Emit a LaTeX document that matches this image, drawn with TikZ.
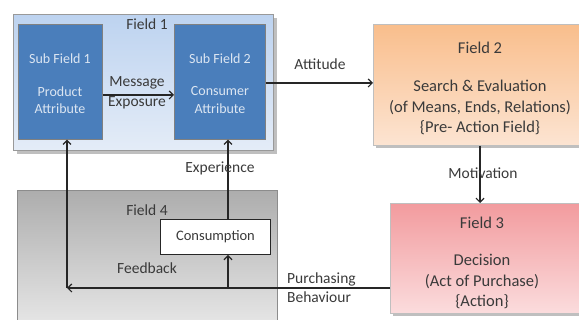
\documentclass[tikz,border=0pt]{standalone}
\usepackage{fontspec}
\setmainfont{Carlito}
\usetikzlibrary{arrows.meta}
\definecolor{subblue}{HTML}{4A7EBB}
\definecolor{subtext}{HTML}{DCE6F2}
\definecolor{txt}{HTML}{3A3A3A}
\definecolor{f1top}{HTML}{BDD3F0}
\definecolor{f1bot}{HTML}{E4ECF7}
\definecolor{f2top}{HTML}{F9BE8C}
\definecolor{f2bot}{HTML}{FCE4D2}
\definecolor{f3top}{HTML}{F29B9E}
\definecolor{f3bot}{HTML}{FBDCDD}
\definecolor{f4top}{HTML}{ADADAD}
\definecolor{f4bot}{HTML}{E6E6E6}
\tikzset{
  x=1pt, y=-1pt,
  shadowbox/.style={fill=black!25, draw=none},
  fieldbox/.style={draw=black!40, line width=0.6pt},
  subbox/.style={fill=subblue, draw=black!50, line width=0.6pt},
  lbl/.style={font=\fontsize{15.5}{19}\selectfont, text=txt, align=center, inner sep=1pt},
  biglbl/.style={font=\fontsize{16.5}{20.5}\selectfont, text=txt, align=center, inner sep=1pt},
  sublbl/.style={font=\fontsize{14}{17.5}\selectfont, text=subtext, align=center},
  conn/.style={line width=1.2pt, draw=black!85, -{Straight Barb[length=4pt,width=8pt]}},
}
\begin{document}
\begin{tikzpicture}
\useasboundingbox (0,0) rectangle (579,320);
% shadows
\fill[shadowbox] (17,18) rectangle (277,154);
\fill[shadowbox] (376,27) rectangle (583,148);
\fill[shadowbox] (393,206) rectangle (583,316);
% Field 1
\node[fieldbox, minimum width=260pt, minimum height=136pt, anchor=north west, top color=f1top, bottom color=f1bot, inner sep=0pt] (f1) at (13,14) {};
\node[lbl] (f1l) at (147,24) {Field 1};
% sub fields
\node[subbox, minimum width=84pt, minimum height=115pt, anchor=north west, inner sep=0pt] (s1) at (18,24) {};
\node[sublbl] at (60,59) {Sub Field 1};
\node[sublbl] at (60,100) {Product\\Attribute};
\node[subbox, minimum width=91pt, minimum height=115pt, anchor=north west, inner sep=0pt] (s2) at (174,24) {};
\node[sublbl] at (220,59) {Sub Field 2};
\node[sublbl] at (220,100) {Consumer\\Attribute};
% Field 2
\node[fieldbox, draw=black!25, minimum width=206pt, minimum height=121pt, anchor=north west, top color=f2top, bottom color=f2bot, inner sep=0pt] (f2) at (373,24) {};
\node[biglbl] at (480,48) {Field 2};
\node[biglbl] at (480,107.5) {Search \& Evaluation\\(of Means, Ends, Relations)\\\{Pre- Action Field\}};
% Field 3
\node[fieldbox, draw=black!25, minimum width=189pt, minimum height=110pt, anchor=north west, top color=f3top, bottom color=f3bot, inner sep=0pt] (f3) at (390,203) {};
\node[biglbl] at (482,223) {Field 3};
\node[biglbl] at (482,281.5) {Decision\\(Act of Purchase)\\\{Action\}};
% Field 4
\node[fieldbox, draw=black!45, minimum width=260pt, minimum height=134pt, anchor=north west, top color=f4top, bottom color=f4bot, inner sep=0pt] (f4) at (17,190) {};
\node[lbl] (f4l) at (147,210) {Field 4};
\node[draw=black!85, line width=1pt, fill=white, minimum width=110pt, minimum height=35pt, anchor=north west, inner sep=0pt] (cons) at (160,219) {};
\node[lbl, font=\fontsize{14.5}{18}\selectfont] at (cons.center) {Consumption};
% connectors
\coordinate (pb) at (228,288);
\coordinate (fb) at (67,288);
\draw[conn] (s1.east |- 0,95) -- (s2.west |- 0,95);
\node[lbl] at (137,83) {Message};
\node[lbl] at (137,103) {Exposure};
\draw[conn] (s2.east |- 0,83) -- (f2.west |- 0,83);
\node[lbl] at (320,64) {Attitude};
\draw[conn] (f2.south -| 480,0) -- (f3.north -| 480,0);
\node[lbl] at (483,173) {Motivation};
\draw[conn] (f3.west |- 0,288) -- (fb);
\draw[conn] (fb) -- (s1.south -| fb);
\draw[conn] (pb) -- (cons.south -| pb);
\draw[conn] (cons.north -| pb) -- (s2.south -| pb);
\node[lbl] at (220,168) {Experience};
\node[lbl] at (147,268) {Feedback};
\node[lbl, anchor=west, align=left] at (286,288) {Purchasing\\Behaviour};
\end{tikzpicture}
\end{document}
